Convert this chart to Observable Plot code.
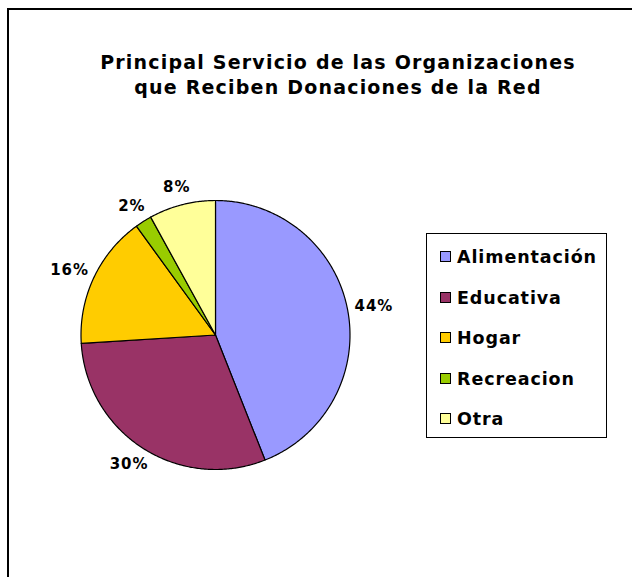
<!DOCTYPE html>
<html>
<head>
<meta charset="utf-8">
<script src="https://cdn.jsdelivr.net/npm/d3@7"></script>
<script src="https://cdn.jsdelivr.net/npm/@observablehq/plot@0.6"></script>
<style>
  html, body { margin: 0; padding: 0; background: #fff; }
  #wrap { position: relative; width: 632px; height: 577px; overflow: hidden; font-family: "DejaVu Sans", Verdana, sans-serif; }
  #frame { position: absolute; left: 7px; top: 8px; width: 640px; height: 600px; border-top: 2px solid #000; border-left: 2px solid #000; box-sizing: border-box; }
  #title { position: absolute; left: 0; width: 676px; top: 50px; text-align: center; font-weight: bold; font-size: 19px; letter-spacing: 1.2px; line-height: 25px; color: #000; }
  #chart { position: absolute; left: 0; top: 0; }
  #legend { position: absolute; left: 426px; top: 233px; width: 181px; height: 205px; border: 1px solid #000; box-sizing: border-box; background: #fff; }
  .item { position: absolute; left: 13px; font-weight: bold; font-size: 17.5px; letter-spacing: 0.9px; line-height: 20px; white-space: nowrap; }
  .sw { display: inline-block; width: 9px; height: 9px; border: 1px solid #000; margin-right: 6px; vertical-align: 1px; }
</style>
</head>
<body>
<div id="wrap">
  <div id="frame"></div>
  <div id="chart"></div>
  <div id="title">Principal Servicio de las Organizaciones<br>que Reciben Donaciones de la Red</div>
  <div id="legend"></div>
</div>
<script>
// Data
const categories = ["Alimentación", "Educativa", "Hogar", "Recreacion", "Otra"];
const values = [44, 30, 16, 2, 8];
const labels = ["44%", "30%", "16%", "2%", "8%"];
const colors = ["#9999FF", "#993366", "#FFCC00", "#99CC00", "#FFFF99"];

// Layout
const W = 632, H = 577;
const cx = 215, cy = 334.5, r = 134.5;
const gap = 11;           // px between pie edge and label box
const charW = 10.5, textH = 14; // approximate label box metrics (px)

const rows = categories.map((c, i) => ({category: c, value: values[i], label: labels[i]}));
const arcs = d3.pie().sort(null).value(d => d.value)(rows);

// Build slice polygons on a unit circle (angle clockwise from 12 o'clock)
const poly = [];
arcs.forEach(a => {
  const n = Math.max(2, Math.ceil((a.endAngle - a.startAngle) / 0.01));
  poly.push({category: a.data.category, x: 0, y: 0});
  for (let k = 0; k <= n; k++) {
    const t = a.startAngle + (a.endAngle - a.startAngle) * k / n;
    poly.push({category: a.data.category, x: Math.sin(t), y: Math.cos(t)});
  }
  poly.push({category: a.data.category, x: 0, y: 0});
});

// Labels outside, label box touching a circle of radius r + gap
const labelPts = arcs.map(a => {
  const m = (a.startAngle + a.endAngle) / 2;
  const ux = Math.sin(m), uy = Math.cos(m);
  const w = a.data.label.length * charW;
  const px = (r + gap) * ux + (w / 2) * ux;
  const py = (r + gap) * uy + (textH / 2) * uy;
  return {label: a.data.label, x: px / r, y: py / r};
});

const plot = Plot.plot({
  width: W, height: H,
  margin: 0,
  x: {domain: [-1, 1], range: [cx - r, cx + r], axis: null},
  y: {domain: [-1, 1], range: [cy + r, cy - r], axis: null},
  color: {domain: categories, range: colors},
  style: {background: "transparent", fontFamily: "DejaVu Sans, Verdana, sans-serif"},
  marks: [
    Plot.line(poly, {x: "x", y: "y", z: "category", fill: "category", stroke: "#000", strokeWidth: 1.2, curve: "linear-closed"}),
    Plot.text(labelPts, {x: "x", y: "y", text: "label", fontSize: 15, fontWeight: "bold", fill: "#000"})
  ]
});
document.getElementById("chart").appendChild(plot);
plot.querySelectorAll("text").forEach(t => t.setAttribute("letter-spacing", "1"));

// Legend
const leg = document.getElementById("legend");
categories.forEach((c, i) => {
  const d = document.createElement("div");
  d.className = "item";
  d.style.top = (13 + i * 40.5) + "px";
  d.innerHTML = `<span class="sw" style="background:${colors[i]}"></span>${c}`;
  leg.appendChild(d);
});
</script>
</body>
</html>
